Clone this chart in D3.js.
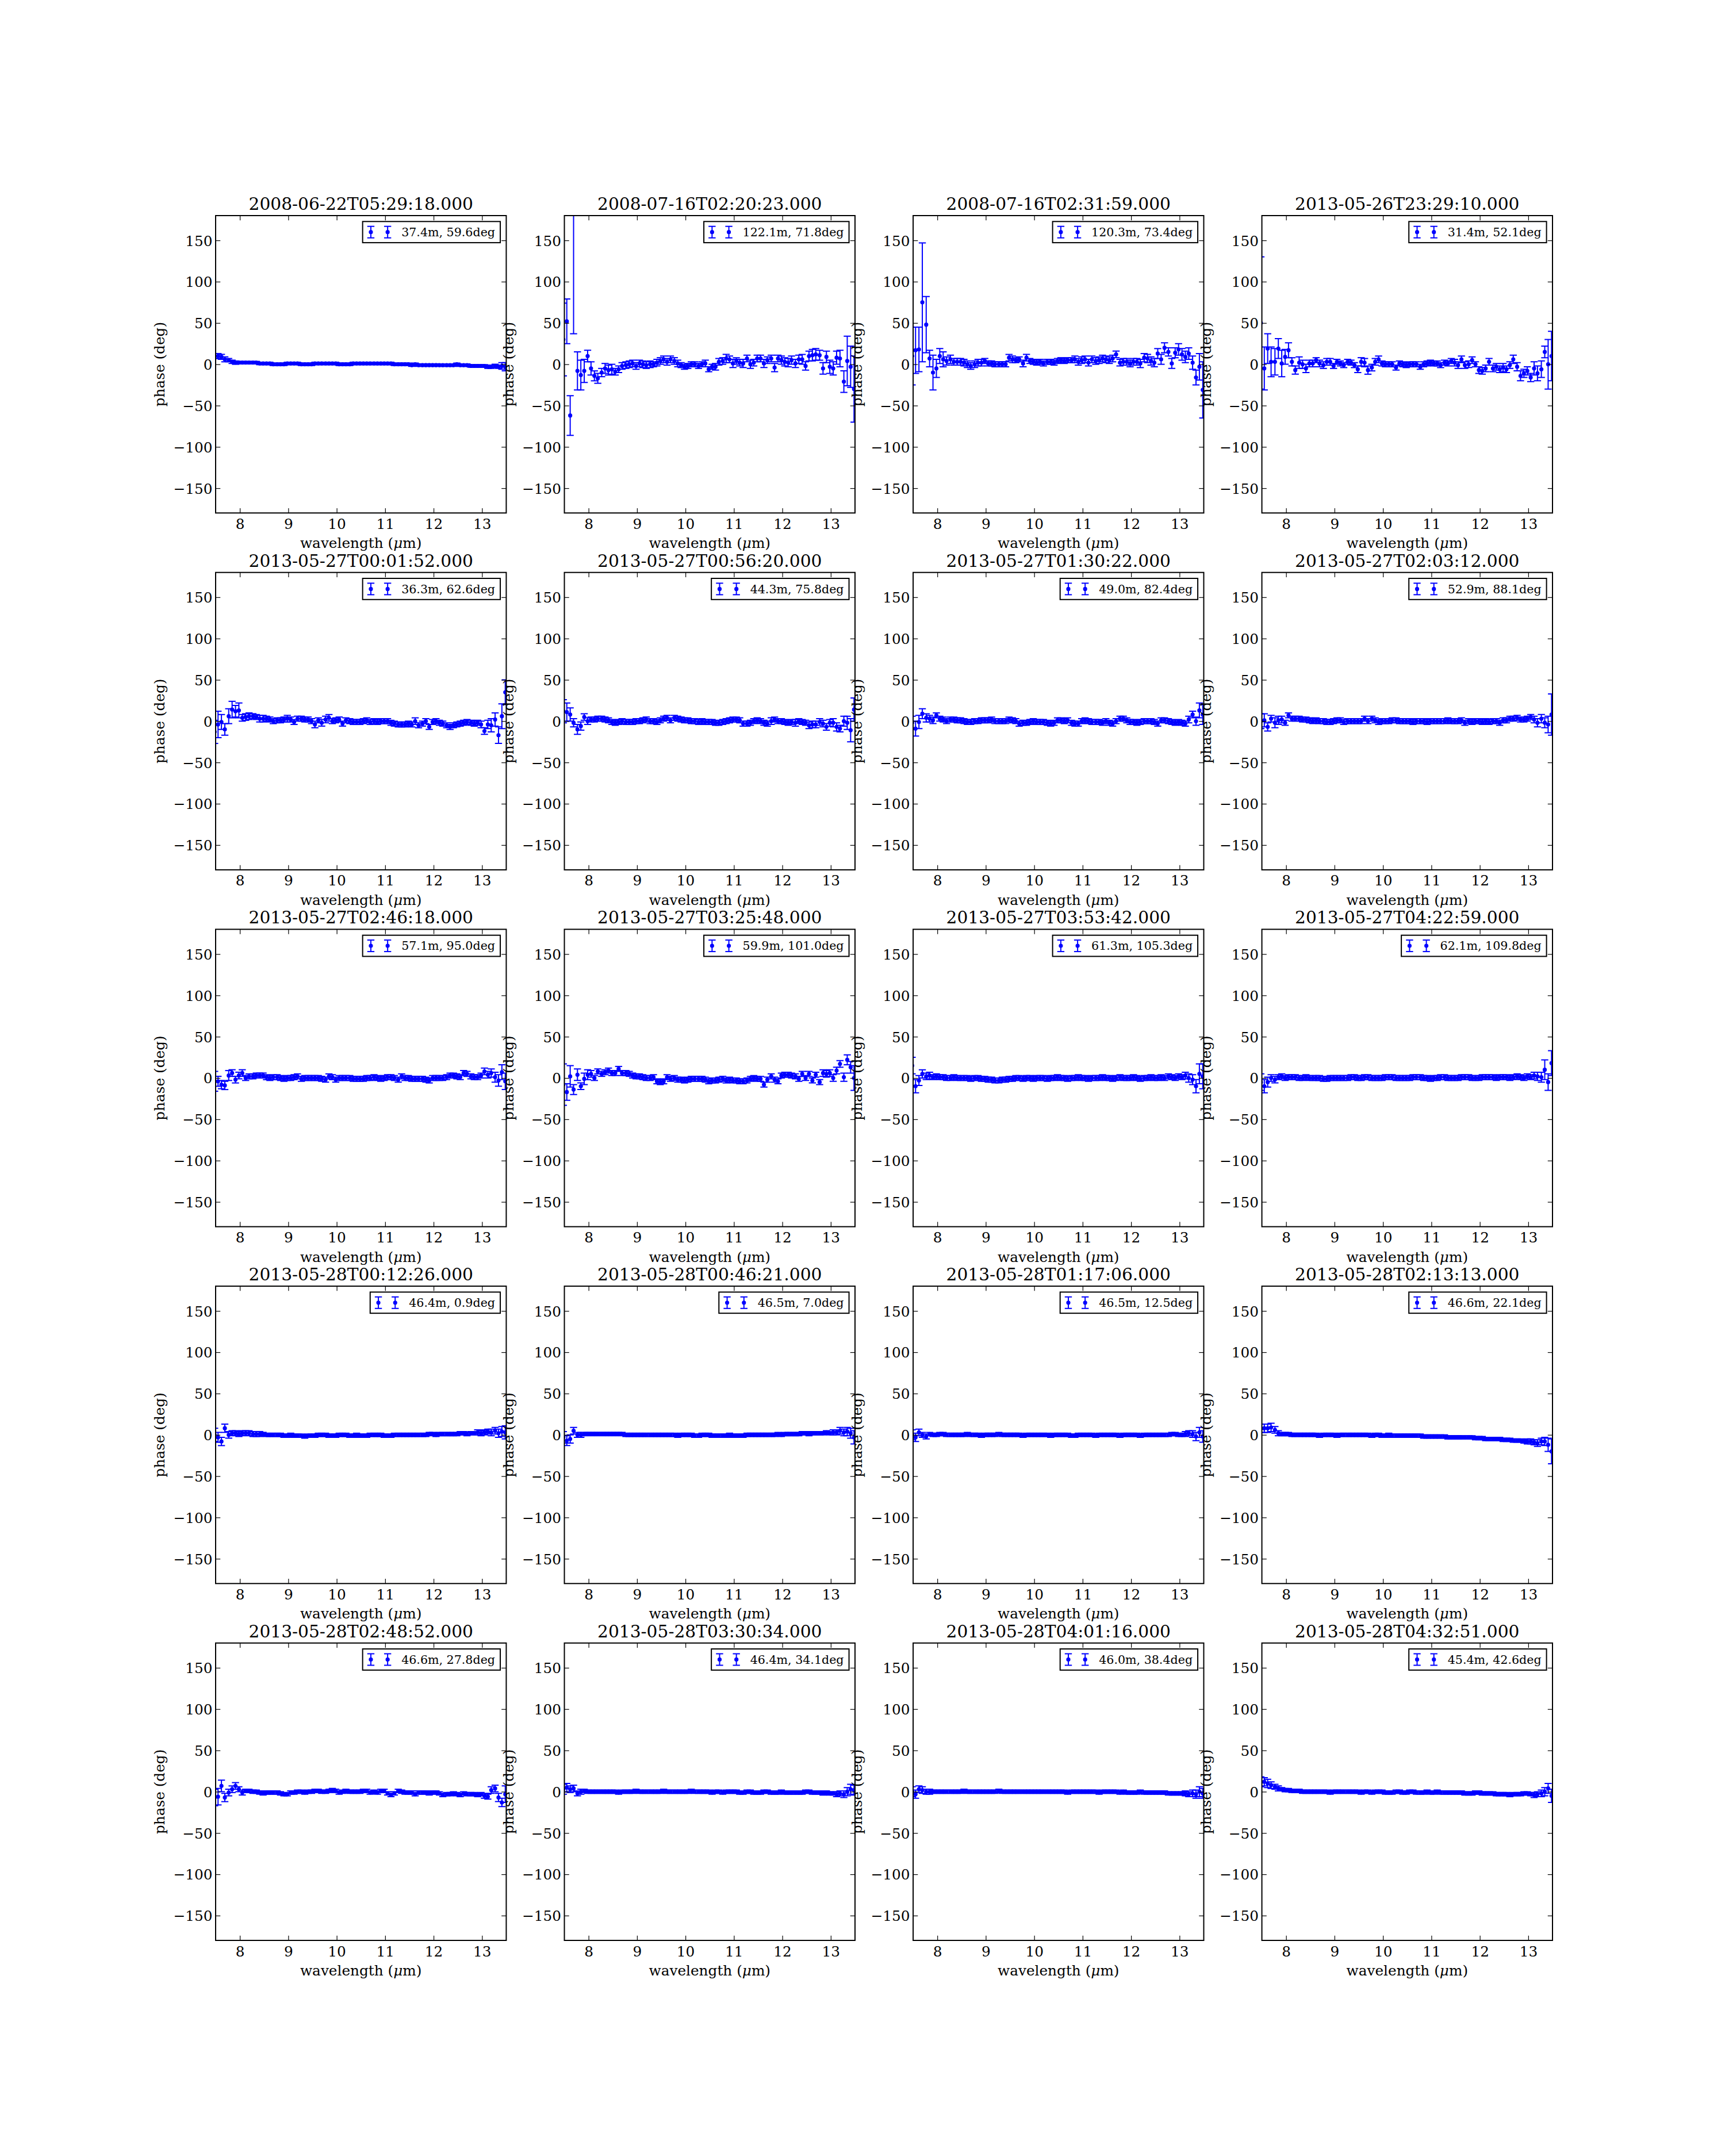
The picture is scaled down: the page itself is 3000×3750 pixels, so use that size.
<!DOCTYPE html>
<html>
<head>
<meta charset="utf-8">
<script src="https://cdn.jsdelivr.net/npm/d3@7"></script>
<style>
    html, body { margin: 0; padding: 0; background: #fff; }
</style>
</head>
<body>
<div class="figure-container"></div>
<script>
/* global d3 */

// wavelength grid (micron)
var wavelengths = [
    7.48, 7.55, 7.62, 7.69, 7.77, 7.84, 7.91, 7.98, 8.05, 8.12, 8.19, 8.27, 8.34, 8.41,
    8.48, 8.55, 8.62, 8.69, 8.77, 8.84, 8.91, 8.98, 9.05, 9.12, 9.19, 9.27, 9.34, 9.41,
    9.48, 9.55, 9.62, 9.69, 9.77, 9.84, 9.91, 9.98, 10.05, 10.12, 10.19, 10.27, 10.34, 10.41,
    10.48, 10.55, 10.62, 10.69, 10.77, 10.84, 10.91, 10.98, 11.05, 11.12, 11.19, 11.27, 11.34, 11.41,
    11.48, 11.55, 11.62, 11.69, 11.77, 11.84, 11.91, 11.98, 12.05, 12.12, 12.19, 12.27, 12.34, 12.41,
    12.48, 12.55, 12.62, 12.69, 12.77, 12.84, 12.91, 12.98, 13.05, 13.12, 13.19, 13.27, 13.34, 13.41,
    13.48
];

var titles = [
    '2008-06-22T05:29:18.000', '2008-07-16T02:20:23.000', '2008-07-16T02:31:59.000', '2013-05-26T23:29:10.000',
    '2013-05-27T00:01:52.000', '2013-05-27T00:56:20.000', '2013-05-27T01:30:22.000', '2013-05-27T02:03:12.000',
    '2013-05-27T02:46:18.000', '2013-05-27T03:25:48.000', '2013-05-27T03:53:42.000', '2013-05-27T04:22:59.000',
    '2013-05-28T00:12:26.000', '2013-05-28T00:46:21.000', '2013-05-28T01:17:06.000', '2013-05-28T02:13:13.000',
    '2013-05-28T02:48:52.000', '2013-05-28T03:30:34.000', '2013-05-28T04:01:16.000', '2013-05-28T04:32:51.000'
];

var legendLabels = [
    '37.4m, 59.6deg', '122.1m, 71.8deg', '120.3m, 73.4deg', '31.4m, 52.1deg',
    '36.3m, 62.6deg', '44.3m, 75.8deg', '49.0m, 82.4deg', '52.9m, 88.1deg',
    '57.1m, 95.0deg', '59.9m, 101.0deg', '61.3m, 105.3deg', '62.1m, 109.8deg',
    '46.4m, 0.9deg', '46.5m, 7.0deg', '46.5m, 12.5deg', '46.6m, 22.1deg',
    '46.6m, 27.8deg', '46.4m, 34.1deg', '46.0m, 38.4deg', '45.4m, 42.6deg'
];

var xTicks = [8, 9, 10, 11, 12, 13];
var yTicks = [-150, -100, -50, 0, 50, 100, 150];

// phase (deg) and 1-sigma error per panel
var phase01 = [
    10, 10, 9, 6, 5, 3, 2, 2, 2, 2, 2, 2, 2, 1,
    1, 1, 1, 0, 0, 0, 0, 1, 1, 1, 1, 0, 0, 0,
    0, 1, 1, 1, 1, 1, 1, 1, 0, 0, 0, 0, 1, 1,
    1, 1, 1, 1, 1, 1, 1, 1, 1, 1, 0, 0, 0, 0,
    0, -1, 0, -1, -1, -1, -1, -1, -1, -1, -1, -1, -1, -1,
    0, -1, -1, -1, -2, -2, -2, -2, -2, -3, -3, -2, -3, -2,
    -3
];
var err01 = [
    3, 3, 3, 3, 2, 2, 2, 1.5, 1.5, 1.5, 1.5, 1.5, 1.5, 1.5,
    1.5, 1.5, 1.5, 1.5, 1.5, 1.5, 1.5, 1.5, 1.5, 1.5, 1.5, 1.5, 1.5, 1.5,
    1.5, 1.5, 1.5, 1.5, 1.5, 1.5, 1.5, 1.5, 1.5, 1.5, 1.5, 1.5, 1.5, 1.5,
    1.5, 1.5, 1.5, 1.5, 1.5, 1.5, 1.5, 1.5, 1.5, 1.5, 1.5, 1.5, 1.5, 1.5,
    1.5, 1.5, 1.5, 1.5, 1.5, 1.5, 1.5, 1.5, 1.5, 1.5, 1.5, 1.5, 1.5, 1.5,
    1.5, 1.5, 1.5, 1.5, 1.5, 1.5, 1.5, 1.5, 1.5, 2, 2, 2, 2, 4,
    5
];

var phase02 = [
    30, 52, -62, 190, -8, -13, -8, 10, -5, -14, -17, -10, -5, -7,
    -6, -9, -6, -2, -1, 0, 1, -2, 1, 0, -1, 0, 0, 2,
    4, 6, 3, 6, 4, 1, -1, -3, -2, 0, 0, -2, 0, 1,
    -6, -3, -3, 3, 4, 7, 6, 1, 4, 2, 1, 7, 0, 2,
    7, 7, 1, 5, 7, -4, 7, 5, 3, 2, 5, 1, 6, 6,
    -2, 10, 11, 12, 11, -5, 9, -3, -5, 8, 7, -21, 4, -3,
    -30
];
var err02 = [
    44, 27, 24, 153, 23, 18, 14, 7, 8, 6, 6, 5, 6, 6,
    6, 4, 4, 4, 4, 4, 4, 4, 4, 4, 4, 4, 3, 4,
    4, 4, 4, 4, 4, 4, 3, 3, 3, 3, 3, 3, 3, 4,
    3, 3, 4, 4, 4, 5, 4, 5, 4, 4, 5, 4, 5, 4,
    4, 4, 5, 4, 4, 5, 4, 5, 5, 5, 5, 5, 5, 6,
    5, 6, 7, 7, 6, 7, 7, 8, 8, 8, 10, 13, 30, 25,
    40
];

var phase03 = [
    10, 17, 18, 75, 48, 7, -10, -5, 10, 6, 4, 6, 3, 3,
    3, 2, 0, -2, 0, 2, 2, 4, 1, 1, 0, 0, 0, 0,
    8, 6, 5, 6, 1, 8, 4, 3, 2, 3, 1, 3, 3, 2,
    4, 5, 4, 5, 5, 6, 3, 5, 6, 2, 6, 4, 5, 7,
    6, 5, 7, 12, 2, 3, 3, 1, 3, 3, 1, 8, 7, 4,
    2, 13, 6, 20, 15, 1, 14, 18, 12, 9, 13, 2, -16, -3,
    -31
];
var err03 = [
    35, 28, 27, 72, 34, 10, 21, 11, 9, 9, 5, 5, 4, 4,
    4, 4, 4, 4, 4, 4, 4, 3, 3, 3, 3, 3, 3, 3,
    4, 4, 3, 3, 4, 4, 3, 3, 3, 3, 3, 3, 3, 3,
    3, 3, 3, 3, 3, 4, 4, 4, 4, 4, 4, 4, 4, 4,
    4, 4, 4, 4, 4, 4, 4, 4, 4, 4, 5, 5, 5, 5,
    5, 6, 6, 6, 5, 6, 6, 7, 7, 7, 7, 8, 9, 16,
    34
];

var phase04 = [
    50, -5, 19, 3, 3, 19, 1, 9, 17, 3, -7, 2, 0, -5,
    1, 1, 5, 1, -1, 3, 3, -2, 3, 1, -1, 3, 2, -1,
    -6, 3, 2, -7, -4, 3, 6, 1, 0, 0, 0, -4, 1, 0,
    -1, 0, 0, 0, -3, 0, 1, 2, 1, 1, -1, 2, 1, 4,
    2, -1, 6, -1, 0, 5, 0, -7, -8, -5, 3, -5, -3, -6,
    -4, -6, -1, 6, -3, -14, -11, -8, -16, -5, -11, -6, 15, 0,
    10
];
var err04 = [
    80, 26, 18, 18, 16, 12, 16, 9, 9, 5, 5, 7, 5, 5,
    4, 4, 3, 4, 4, 4, 4, 3, 3, 3, 3, 3, 3, 3,
    4, 5, 5, 5, 4, 4, 4, 3, 3, 3, 3, 3, 3, 3,
    3, 3, 3, 3, 3, 3, 3, 3, 3, 3, 3, 3, 3, 3,
    4, 4, 4, 4, 4, 4, 3, 4, 4, 4, 4, 4, 4, 4,
    5, 4, 4, 5, 5, 6, 5, 5, 5, 8, 9, 10, 7, 30,
    30
];

var phase05 = [
    -13, -4, -1, -10, 6, 14, 12, 13, 4, 5, 6, 6, 5, 3,
    3, 3, 2, 0, 1, 1, 2, 3, 2, -1, 3, 3, 2, 2,
    0, -4, 1, -2, 2, 4, 0, 1, 2, -3, 1, 0, -1, -1,
    -1, 0, 1, -1, 0, -1, 0, 0, 0, -2, -3, -4, -4, -4,
    -3, -4, 0, -5, -3, 0, -7, -1, 0, -2, -3, -5, -7, -5,
    -4, -3, -2, -1, -2, -3, -2, -4, -12, -4, -5, 2, -17, 6,
    35
];
var err05 = [
    14, 16, 9, 7, 9, 10, 7, 9, 4, 4, 4, 3, 3, 4,
    4, 3, 3, 3, 3, 3, 3, 4, 3, 3, 3, 3, 3, 3,
    3, 4, 3, 4, 4, 4, 3, 3, 3, 3, 3, 3, 3, 3,
    3, 3, 3, 3, 3, 3, 3, 3, 3, 3, 3, 3, 3, 3,
    3, 3, 4, 3, 3, 3, 3, 3, 3, 3, 3, 3, 3, 3,
    3, 3, 3, 3, 3, 3, 3, 4, 4, 5, 8, 8, 10, 15,
    15
];

var phase06 = [
    12, 11, 8, -2, -10, -6, 5, 0, 2, 2, 3, 3, 2, 1,
    -1, -2, -1, 0, -1, -1, -1, 0, 0, 1, 2, 0, 0, -1,
    1, 3, 4, 1, 4, 3, 2, 1, 1, 0, 0, -1, 0, -1,
    -1, -1, -2, -2, -1, 0, 1, 2, 2, 1, -3, -3, -2, 0,
    1, 0, -2, -3, 0, 2, 0, 0, -1, -2, -1, -2, 0, -1,
    -2, -5, -4, -4, -1, -3, -7, -2, -2, -7, -9, 0, -2, -11,
    14
];
var err06 = [
    14, 11, 8, 5, 6, 5, 4, 4, 3, 3, 3, 3, 3, 3,
    3, 3, 3, 3, 3, 3, 3, 3, 3, 3, 3, 3, 3, 3,
    3, 3, 3, 3, 3, 3, 3, 3, 3, 3, 3, 3, 3, 3,
    3, 3, 3, 3, 3, 3, 3, 3, 3, 3, 3, 3, 3, 3,
    3, 3, 3, 3, 4, 3, 3, 3, 3, 3, 3, 4, 3, 3,
    3, 4, 4, 4, 4, 4, 4, 4, 5, 5, 4, 6, 8, 14,
    14
];

var phase07 = [
    -2, -9, -1, 9, 4, 3, 1, 7, 3, 2, 0, 2, 2, 1,
    1, 0, -1, -1, 0, 0, 1, 1, 1, 2, 0, 0, 0, 0,
    2, 1, 0, -3, -2, -2, -1, 0, -1, -1, -1, -2, -3, -2,
    1, 1, 0, 1, -2, -3, -3, 0, 1, 0, -1, -1, -1, -2,
    0, -2, -3, 0, 3, 3, 1, -1, -1, -2, -1, 0, 0, 0,
    -1, -3, 1, 1, 0, -1, -2, -1, -2, -3, 2, 8, 0, 13,
    8
];
var err07 = [
    8, 9, 8, 6, 5, 4, 4, 3, 3, 3, 3, 3, 3, 3,
    3, 3, 3, 3, 3, 3, 3, 3, 3, 3, 3, 3, 3, 3,
    3, 3, 3, 3, 3, 3, 3, 3, 3, 3, 3, 3, 3, 3,
    3, 3, 3, 3, 3, 3, 3, 3, 3, 3, 3, 3, 3, 3,
    3, 3, 3, 3, 3, 3, 3, 3, 3, 3, 3, 3, 3, 3,
    3, 3, 3, 3, 3, 3, 3, 3, 3, 3, 4, 4, 5, 9,
    12
];

var phase08 = [
    0, 1, -7, 3, -2, 1, 2, -2, 7, 3, 3, 3, 2, 2,
    1, 0, 1, 0, 0, -1, -1, 0, 1, 1, -1, 0, 0, 0,
    0, 0, 3, 0, 3, 1, -1, 0, 0, 0, 1, 1, 0, 0,
    0, 0, -1, 0, 0, 0, -1, 0, 0, 0, 0, 0, 1, 0,
    0, 0, 1, -2, 0, -1, 0, 0, -1, 0, -1, 0, 0, -2,
    1, 1, 3, 3, 4, 2, 2, 3, 5, 2, -2, 3, -2, -4,
    8
];
var err08 = [
    9, 8, 5, 4, 6, 5, 4, 3, 3, 3, 3, 3, 3, 3,
    3, 3, 3, 3, 3, 3, 3, 3, 3, 3, 3, 3, 3, 3,
    3, 3, 3, 3, 3, 3, 3, 3, 3, 3, 3, 3, 3, 3,
    3, 3, 3, 3, 3, 3, 3, 3, 3, 3, 3, 3, 3, 3,
    3, 3, 3, 3, 3, 3, 3, 3, 3, 3, 3, 3, 3, 3,
    3, 3, 3, 3, 3, 3, 3, 3, 3, 4, 5, 5, 6, 10,
    25
];

var phase09 = [
    -4, -4, -8, -9, 3, 6, -2, 3, 6, 0, 2, 2, 3, 3,
    3, 1, 0, 1, 1, 0, -1, 0, 0, 1, 2, -1, 0, 0,
    0, 0, 0, -1, -2, 2, 1, -2, 0, 0, 0, 0, -1, -1,
    -1, -1, 0, 0, 1, 0, -1, 0, 1, 1, 0, -2, 2, 0,
    0, -1, -1, -1, -1, -2, -3, 0, 0, 0, 0, 1, 3, 3,
    2, 1, 6, 5, 2, 1, 1, 3, 8, 4, 6, 1, -3, 7,
    -4
];
var err09 = [
    12, 6, 5, 5, 6, 4, 4, 4, 4, 3, 3, 3, 3, 3,
    3, 3, 3, 3, 3, 3, 3, 3, 3, 3, 3, 3, 3, 3,
    3, 3, 3, 3, 3, 3, 3, 3, 3, 3, 3, 3, 3, 3,
    3, 3, 3, 3, 3, 3, 3, 3, 3, 3, 3, 3, 3, 3,
    3, 3, 3, 3, 3, 3, 3, 3, 3, 3, 3, 3, 3, 3,
    3, 3, 3, 3, 3, 3, 3, 3, 4, 4, 5, 6, 7, 9,
    10
];

var phase10 = [
    -8, -17, 2, -14, 4, -10, -1, 4, 5, 0, 8, 5, 7, 9,
    6, 6, 11, 6, 6, 5, 3, 2, 2, 1, 0, 0, 1, -4,
    -5, -4, 1, -1, 0, -2, -2, -3, -2, -1, -1, -1, -1, -2,
    -4, -3, -3, -2, -1, -3, -2, -3, -3, -4, -4, -3, -1, 0,
    -1, -1, -8, -2, 2, -2, -4, 3, 4, 4, 3, 2, -1, 5,
    0, 5, -3, 4, -5, 6, 5, 6, 0, 9, 17, 1, 22, 13,
    0
];
var err10 = [
    25, 10, 13, 6, 7, 4, 7, 6, 4, 3, 3, 3, 3, 3,
    3, 3, 3, 3, 3, 3, 3, 3, 3, 3, 3, 3, 3, 3,
    3, 3, 3, 3, 3, 3, 3, 3, 3, 3, 3, 3, 3, 3,
    3, 3, 3, 3, 3, 3, 3, 3, 3, 3, 3, 3, 3, 3,
    3, 3, 3, 3, 3, 3, 3, 3, 3, 3, 3, 3, 3, 3,
    3, 3, 3, 3, 3, 4, 4, 4, 4, 4, 4, 5, 6, 7,
    15
];

var phase11 = [
    15, -10, -3, 5, 2, 3, 1, 2, 1, 1, 0, 0, 1, 0,
    0, 0, 0, -1, 0, 0, -1, -1, -2, -2, -3, -3, -2, -2,
    -1, -1, 0, 0, -1, 0, 0, -1, 0, 0, 0, -1, 0, 0,
    1, 0, 0, -1, 0, 0, 1, 0, 0, -1, 0, 0, 0, 1,
    0, 0, -1, 0, 1, 0, 0, 0, 1, 0, -1, 0, 0, 1,
    0, 0, 1, 0, 2, 1, 0, 2, 1, 3, 0, -2, -10, 5,
    2
];
var err11 = [
    10, 8, 6, 5, 4, 4, 3, 3, 3, 3, 3, 3, 3, 3,
    3, 3, 3, 3, 3, 3, 3, 3, 3, 3, 3, 3, 3, 3,
    3, 3, 3, 3, 3, 3, 3, 3, 3, 3, 3, 3, 3, 3,
    3, 3, 3, 3, 3, 3, 3, 3, 3, 3, 3, 3, 3, 3,
    3, 3, 3, 3, 3, 3, 3, 3, 3, 3, 3, 3, 3, 3,
    3, 3, 3, 3, 3, 3, 3, 3, 3, 4, 5, 6, 8, 12,
    15
];

var phase12 = [
    -5, -10, -5, 0, -2, 1, 2, 0, 1, 1, 1, 0, 0, 1,
    0, 0, 0, 0, -1, -1, 0, 0, 0, 0, 0, 0, 1, 1,
    0, 0, 1, 1, 0, 0, 0, 0, 1, 1, 1, 0, 0, 0,
    0, 0, 1, 1, 1, 0, 0, -1, 0, 0, 1, 1, 0, 0,
    0, 0, 1, 1, 1, 0, 0, 0, 1, 1, 1, 1, 0, 1,
    1, 1, 0, 1, 2, 1, 0, 2, 1, 3, 2, 1, 10, -5,
    18
];
var err12 = [
    10, 8, 6, 4, 4, 3, 3, 3, 3, 3, 3, 3, 3, 3,
    3, 3, 3, 3, 3, 3, 3, 3, 3, 3, 3, 3, 3, 3,
    3, 3, 3, 3, 3, 3, 3, 3, 3, 3, 3, 3, 3, 3,
    3, 3, 3, 3, 3, 3, 3, 3, 3, 3, 3, 3, 3, 3,
    3, 3, 3, 3, 3, 3, 3, 3, 3, 3, 3, 3, 3, 3,
    3, 3, 3, 3, 3, 3, 3, 3, 3, 4, 5, 6, 12, 10,
    15
];

var phase13 = [
    0, -3, -8, 8, 0, 2, 2, 1, 2, 2, 2, 1, 1, 1,
    1, 0, 0, 0, 0, 0, -1, -1, 0, -1, -1, -1, -2, -1,
    -1, -1, 0, 0, 0, -1, -1, -1, 0, 0, 0, -1, -1, 0,
    -1, -1, -1, 0, 0, 0, 0, -1, -1, -1, 0, 0, 0, 0,
    0, 0, 0, 0, 0, 0, 1, 1, 0, 1, 1, 1, 1, 1,
    1, 2, 2, 1, 2, 2, 3, 2, 3, 4, 3, 5, 2, 4,
    3
];
var err13 = [
    8, 6, 5, 5, 4, 3, 3, 3, 3, 3, 3, 3, 3, 3,
    2, 2, 2, 2, 2, 2, 2, 2, 2, 2, 2, 2, 2, 2,
    2, 2, 2, 2, 2, 2, 2, 2, 2, 2, 2, 2, 2, 2,
    2, 2, 2, 2, 2, 2, 2, 2, 2, 2, 2, 2, 2, 2,
    2, 2, 2, 2, 2, 2, 2, 2, 2, 2, 2, 2, 2, 2,
    2, 2, 2, 2, 2, 2, 3, 3, 3, 3, 4, 4, 5, 6,
    8
];

var phase14 = [
    -3, -7, -5, 5, 0, 0, 1, 1, 1, 1, 1, 1, 1, 1,
    1, 1, 1, 1, 0, 0, 0, 0, 0, 0, 0, 0, 0, 0,
    0, 0, 0, 0, 0, -1, 0, 0, 0, 0, -1, -1, 0, 0,
    0, -1, -1, -1, -1, -1, 0, -1, -1, -1, -1, 0, 0, 0,
    0, 0, 0, 0, 0, 0, 1, 0, 1, 1, 1, 1, 1, 2,
    2, 1, 2, 2, 2, 2, 3, 2, 3, 3, 5, 3, 4, 2,
    -3
];
var err14 = [
    7, 6, 5, 4, 3, 3, 2, 2, 2, 2, 2, 2, 2, 2,
    2, 2, 2, 2, 2, 2, 2, 2, 2, 2, 2, 2, 2, 2,
    2, 2, 2, 2, 2, 2, 2, 2, 2, 2, 2, 2, 2, 2,
    2, 2, 2, 2, 2, 2, 2, 2, 2, 2, 2, 2, 2, 2,
    2, 2, 2, 2, 2, 2, 2, 2, 2, 2, 2, 2, 2, 2,
    2, 2, 2, 2, 2, 2, 2, 2, 3, 3, 4, 4, 5, 6,
    8
];

var phase15 = [
    0, -3, 3, 0, -2, 1, 0, 0, 1, 1, 0, 0, 0, 0,
    0, 0, 1, 0, 0, 0, -1, 0, 0, 0, 0, 1, 0, 0,
    0, 0, 0, 0, -1, 0, 0, 0, 0, 0, 0, 0, -1, 0,
    0, 0, 0, 0, -1, -1, 0, 0, 0, 0, 0, -1, 0, 0,
    0, 0, 0, 0, -1, 0, 0, 0, 0, 0, -1, 0, 0, 0,
    0, 0, 0, 0, 0, 1, 1, 0, 0, 1, 2, 1, -2, 3,
    -2
];
var err15 = [
    6, 5, 4, 3, 3, 2, 2, 2, 2, 2, 2, 2, 2, 2,
    2, 2, 2, 2, 2, 2, 2, 2, 2, 2, 2, 2, 2, 2,
    2, 2, 2, 2, 2, 2, 2, 2, 2, 2, 2, 2, 2, 2,
    2, 2, 2, 2, 2, 2, 2, 2, 2, 2, 2, 2, 2, 2,
    2, 2, 2, 2, 2, 2, 2, 2, 2, 2, 2, 2, 2, 2,
    2, 2, 2, 2, 2, 2, 2, 2, 2, 3, 3, 4, 5, 6,
    7
];

var phase16 = [
    8, 8, 8, 9, 6, 2, 1, 1, 1, 0, 0, 0, 0, 0,
    0, 0, 0, -1, 0, 0, 0, 0, -1, 0, 0, 0, 0, 0,
    0, 0, 0, 0, -1, 0, 0, -1, -1, 0, -1, -1, -1, -1,
    -1, -1, -1, -1, -1, -2, -2, -2, -2, -2, -2, -2, -3, -3,
    -3, -3, -3, -3, -3, -3, -4, -4, -4, -5, -5, -5, -5, -5,
    -6, -6, -6, -7, -7, -7, -8, -8, -8, -9, -10, -8, -8, -12,
    -20
];
var err16 = [
    5, 5, 5, 5, 4, 3, 2, 2, 2, 2, 2, 2, 2, 2,
    2, 2, 2, 2, 2, 2, 2, 2, 2, 2, 2, 2, 2, 2,
    2, 2, 2, 2, 2, 2, 2, 2, 2, 2, 2, 2, 2, 2,
    2, 2, 2, 2, 2, 2, 2, 2, 2, 2, 2, 2, 2, 2,
    2, 2, 2, 2, 2, 2, 2, 2, 2, 2, 2, 2, 2, 2,
    2, 2, 2, 2, 2, 2, 2, 3, 3, 3, 4, 4, 5, 8,
    15
];

var phase17 = [
    -7, -6, 7, -7, -1, 3, 7, 3, -1, 1, 1, 0, 0, -1,
    -2, -1, -1, -1, -1, -2, -3, -3, -1, -1, 0, 0, -1, 0,
    0, 1, 1, 0, 0, 1, 2, 1, -1, 0, 1, 0, 0, 0,
    0, 1, 1, -1, 0, -1, 1, 1, -2, -4, -2, 1, 0, -1,
    -1, -1, -3, -1, -1, -1, -2, -1, -1, -2, -4, -3, -3, -2,
    -3, -4, -2, -3, -3, -3, -4, -3, -5, -6, 2, 4, -7, -13,
    -3
];
var err17 = [
    10, 10, 7, 5, 4, 4, 4, 3, 3, 2, 2, 2, 2, 2,
    2, 2, 2, 2, 2, 2, 2, 2, 2, 2, 2, 2, 2, 2,
    2, 2, 2, 2, 2, 2, 2, 2, 2, 2, 2, 2, 2, 2,
    2, 2, 2, 2, 2, 2, 2, 2, 2, 2, 2, 2, 2, 2,
    2, 2, 2, 2, 2, 2, 2, 2, 2, 2, 2, 2, 2, 2,
    2, 2, 2, 2, 2, 2, 2, 2, 3, 3, 4, 4, 5, 5,
    10
];

var phase18 = [
    3, 5, 3, 4, -2, 0, 1, 0, 0, 0, 0, 0, 0, 0,
    0, 0, -1, 0, 0, 0, 0, 1, 0, 0, 0, 0, 0, 0,
    0, 1, 0, 0, 0, 0, 0, 0, 0, 1, 0, 0, 0, 0,
    0, -1, 0, 0, -1, 0, 0, 0, 0, -1, -1, 0, 0, -1,
    -1, -1, 0, 0, -1, -1, -1, 0, -1, -1, -1, -1, -1, -1,
    0, 0, -1, -1, -1, -2, -1, -2, -2, -3, -2, -3, 0, 3,
    2
];
var err18 = [
    6, 5, 4, 4, 3, 3, 2, 2, 2, 2, 2, 2, 2, 2,
    2, 2, 2, 2, 2, 2, 2, 2, 2, 2, 2, 2, 2, 2,
    2, 2, 2, 2, 2, 2, 2, 2, 2, 2, 2, 2, 2, 2,
    2, 2, 2, 2, 2, 2, 2, 2, 2, 2, 2, 2, 2, 2,
    2, 2, 2, 2, 2, 2, 2, 2, 2, 2, 2, 2, 2, 2,
    2, 2, 2, 2, 2, 2, 2, 2, 2, 3, 3, 4, 5, 6,
    6
];

var phase19 = [
    0, -3, 3, 2, 0, 0, 0, 0, 0, 0, 0, 0, 0, 0,
    0, 1, 0, 0, 0, 0, 0, 0, 0, 0, 0, 1, 0, 0,
    0, 0, 0, 0, 0, 0, 0, 0, 0, 0, 0, 0, 0, 0,
    0, 0, 0, -1, 0, 0, 0, 0, 0, 0, 0, 0, -1, 0,
    0, 0, 0, 0, -1, 0, -1, -1, -1, -1, 0, -1, -1, -1,
    -1, -1, -1, -1, -2, -2, -2, -2, -2, -2, -3, -2, -3, 0,
    -2
];
var err19 = [
    6, 5, 4, 4, 3, 3, 2, 2, 2, 2, 2, 2, 2, 2,
    2, 2, 2, 2, 2, 2, 2, 2, 2, 2, 2, 2, 2, 2,
    2, 2, 2, 2, 2, 2, 2, 2, 2, 2, 2, 2, 2, 2,
    2, 2, 2, 2, 2, 2, 2, 2, 2, 2, 2, 2, 2, 2,
    2, 2, 2, 2, 2, 2, 2, 2, 2, 2, 2, 2, 2, 2,
    2, 2, 2, 2, 2, 2, 2, 2, 2, 3, 3, 4, 5, 6,
    6
];

var phase20 = [
    12, 12, 10, 8, 6, 4, 3, 2, 2, 1, 1, 1, 0, 0,
    0, 0, 0, 0, 0, 0, -1, 0, 0, 0, 0, 0, 0, 0,
    0, -1, 0, 0, -1, 0, 0, 0, -1, -1, -1, 0, 0, -1,
    -1, 0, 0, -1, -1, -1, 0, -1, -1, 0, -1, -1, -1, -1,
    -1, -1, -1, -2, -2, -2, -1, -1, -2, -2, -2, -2, -3, -3,
    -3, -3, -4, -3, -3, -3, -2, -2, -3, -4, -3, -2, 0, 4,
    -5
];
var err20 = [
    6, 5, 5, 4, 3, 3, 2, 2, 2, 2, 2, 2, 2, 2,
    2, 2, 2, 2, 2, 2, 2, 2, 2, 2, 2, 2, 2, 2,
    2, 2, 2, 2, 2, 2, 2, 2, 2, 2, 2, 2, 2, 2,
    2, 2, 2, 2, 2, 2, 2, 2, 2, 2, 2, 2, 2, 2,
    2, 2, 2, 2, 2, 2, 2, 2, 2, 2, 2, 2, 2, 2,
    2, 2, 2, 2, 2, 2, 2, 2, 2, 3, 3, 4, 5, 6,
    8
];

var phaseSeries = [phase01, phase02, phase03, phase04, phase05, phase06, phase07, phase08, phase09, phase10,
    phase11, phase12, phase13, phase14, phase15, phase16, phase17, phase18, phase19, phase20];
var errorSeries = [err01, err02, err03, err04, err05, err06, err07, err08, err09, err10,
    err11, err12, err13, err14, err15, err16, err17, err18, err19, err20];

(function () {
    'use strict';

    var FIG_W = 3000, FIG_H = 3750;
    var NCOLS = 4, NROWS = 5;
    // matplotlib default subplot box: left .125, right .9, bottom .1, top .9, w/hspace .2
    var axW = (0.9 - 0.125) * FIG_W / (NCOLS + (NCOLS - 1) * 0.2);
    var axH = (0.9 - 0.1) * FIG_H / (NROWS + (NROWS - 1) * 0.2);
    var BLUE = '#0000ff';
    var FONT = '"DejaVu Serif", serif';
    var TICK_FS = 24.75, TITLE_FS = 29.7, LEGEND_FS = 20.6;
    var TICK_LEN = 8.25, CAP_HALF = 6.2, DOT_R = 3.6;

    var svg = d3.select('.figure-container')
        .append('svg')
            .attr('width', FIG_W)
            .attr('height', FIG_H)
            .attr('viewBox', '0 0 ' + FIG_W + ' ' + FIG_H);

    svg.append('rect')
        .attr('width', FIG_W)
        .attr('height', FIG_H)
        .attr('fill', '#fff');

    var x = d3.scaleLinear().domain([7.5, 13.5]).range([0, axW]);
    var y = d3.scaleLinear().domain([-180, 180]).range([axH, 0]);

    function styleAxis(sel) {
        sel.select('.domain').remove();
        sel.attr('font-family', FONT).attr('font-size', TICK_FS).attr('fill', '#000');
        sel.selectAll('.tick line').attr('stroke', '#000').attr('stroke-width', 1.2);
        sel.selectAll('.tick text').attr('fill', '#000');
    }

    function drawErrorbars(g, pts) {
        g.selectAll('line.bar').data(pts).enter()
            .append('line')
            .attr('class', 'bar')
            .attr('x1', function (d) { return x(d.w); })
            .attr('x2', function (d) { return x(d.w); })
            .attr('y1', function (d) { return y(d.v - d.e); })
            .attr('y2', function (d) { return y(d.v + d.e); })
            .attr('stroke', BLUE)
            .attr('stroke-width', 2);

        [-1, 1].forEach(function (sign) {
            g.selectAll('line.cap' + (sign > 0 ? 'hi' : 'lo')).data(pts).enter()
                .append('line')
                .attr('class', 'cap' + (sign > 0 ? 'hi' : 'lo'))
                .attr('x1', function (d) { return x(d.w) - CAP_HALF; })
                .attr('x2', function (d) { return x(d.w) + CAP_HALF; })
                .attr('y1', function (d) { return y(d.v + sign * d.e); })
                .attr('y2', function (d) { return y(d.v + sign * d.e); })
                .attr('stroke', BLUE)
                .attr('stroke-width', 2);
        });

        g.selectAll('circle').data(pts).enter()
            .append('circle')
            .attr('cx', function (d) { return x(d.w); })
            .attr('cy', function (d) { return y(d.v); })
            .attr('r', DOT_R)
            .attr('fill', BLUE);
    }

    function drawLegend(g, label) {
        var leg = g.append('g');
        var text = leg.append('text')
            .attr('font-family', FONT)
            .attr('font-size', LEGEND_FS)
            .text(label);
        var tw = text.node().getComputedTextLength();
        var boxW = 67.5 + tw + 9, boxH = 36.8;
        var bx = axW - 10.4 - boxW, by = 10.3;
        var cy = by + boxH / 2;

        leg.insert('rect', 'text')
            .attr('x', bx).attr('y', by)
            .attr('width', boxW).attr('height', boxH)
            .attr('fill', '#fff')
            .attr('stroke', '#000')
            .attr('stroke-width', 2);

        text.attr('x', bx + 67.5).attr('y', cy + 7.4);

        [14.3, 43.5].forEach(function (dx) {
            var mx = bx + dx;
            leg.append('line')
                .attr('x1', mx).attr('x2', mx)
                .attr('y1', cy - 10).attr('y2', cy + 10)
                .attr('stroke', BLUE).attr('stroke-width', 2);
            [-10, 10].forEach(function (dy) {
                leg.append('line')
                    .attr('x1', mx - CAP_HALF).attr('x2', mx + CAP_HALF)
                    .attr('y1', cy + dy).attr('y2', cy + dy)
                    .attr('stroke', BLUE).attr('stroke-width', 2);
            });
            leg.append('circle')
                .attr('cx', mx).attr('cy', cy)
                .attr('r', DOT_R)
                .attr('fill', BLUE);
        });
    }

    function drawPanel(g, k) {
        var pts = wavelengths.map(function (w, i) {
            return { w: w, v: phaseSeries[k][i], e: errorSeries[k][i] };
        });

        g.append('clipPath')
            .attr('id', 'clip' + k)
            .append('rect')
                .attr('width', axW)
                .attr('height', axH);

        var data = g.append('g').attr('clip-path', 'url(#clip' + k + ')');
        drawErrorbars(data, pts);

        g.append('g')
            .attr('transform', 'translate(0,' + axH + ')')
            .call(d3.axisBottom(x).tickValues(xTicks).tickSizeInner(-TICK_LEN).tickSizeOuter(0)
                .tickPadding(10).tickFormat(d3.format('d')))
            .call(styleAxis);

        g.append('g')
            .call(d3.axisTop(x).tickValues(xTicks).tickSizeInner(-TICK_LEN).tickSizeOuter(0).tickFormat(''))
            .call(styleAxis);

        g.append('g')
            .call(d3.axisLeft(y).tickValues(yTicks).tickSizeInner(-TICK_LEN).tickSizeOuter(0)
                .tickPadding(5.5).tickFormat(d3.format('d')))
            .call(styleAxis)
            .selectAll('.tick text').attr('dy', '0.36em');

        g.append('g')
            .attr('transform', 'translate(' + axW + ',0)')
            .call(d3.axisRight(y).tickValues(yTicks).tickSizeInner(-TICK_LEN).tickSizeOuter(0).tickFormat(''))
            .call(styleAxis);

        g.append('rect')
            .attr('width', axW)
            .attr('height', axH)
            .attr('fill', 'none')
            .attr('stroke', '#000')
            .attr('stroke-width', 2);

        g.append('text')
            .attr('x', axW / 2)
            .attr('y', -10)
            .attr('text-anchor', 'middle')
            .attr('font-family', FONT)
            .attr('font-size', TITLE_FS)
            .text(titles[k]);

        var xl = g.append('text')
            .attr('x', axW / 2)
            .attr('y', axH + 61)
            .attr('text-anchor', 'middle')
            .attr('font-family', FONT)
            .attr('font-size', TICK_FS);
        xl.append('tspan').text('wavelength (');
        xl.append('tspan').attr('font-style', 'italic').text('\u03bc');
        xl.append('tspan').text('m)');

        g.append('text')
            .attr('transform', 'translate(-89,' + (axH / 2) + ') rotate(-90)')
            .attr('text-anchor', 'middle')
            .attr('font-family', FONT)
            .attr('font-size', TICK_FS)
            .text('phase (deg)');

        drawLegend(g, legendLabels[k]);
    }

    titles.forEach(function (t, k) {
        var col = k % NCOLS, row = Math.floor(k / NCOLS);
        var ox = 0.125 * FIG_W + col * axW * 1.2;
        var oy = 0.1 * FIG_H + row * axH * 1.2;
        var g = svg.append('g').attr('transform', 'translate(' + ox + ',' + oy + ')');
        drawPanel(g, k);
    });
})();
</script>
</body>
</html>
